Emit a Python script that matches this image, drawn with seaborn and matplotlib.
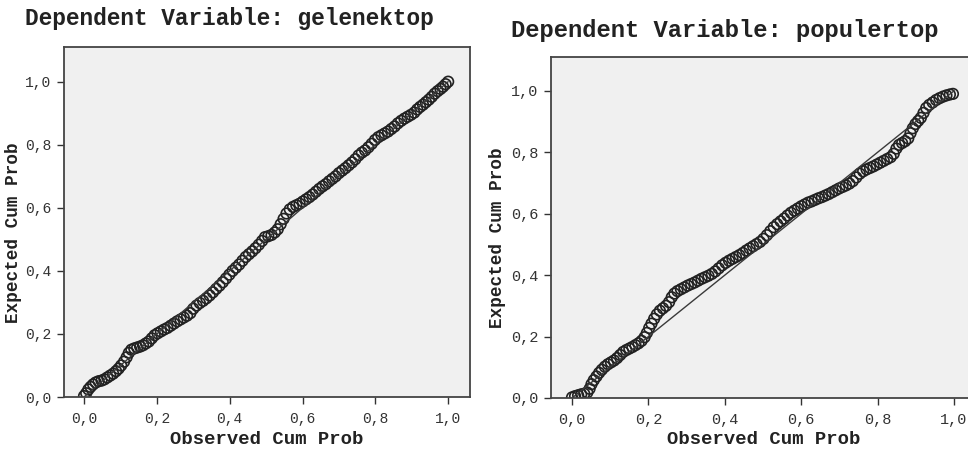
import numpy as np
import pandas as pd
import matplotlib.pyplot as plt
import seaborn as sns

# observed vs expected cumulative probabilities
gelenektop_obs = [0.000, 0.006, 0.012, 0.018, 0.025, 0.032, 0.040, 0.048, 0.056, 0.064,
                  0.072, 0.080, 0.088, 0.095, 0.102, 0.110, 0.117, 0.123, 0.130, 0.138,
                  0.146, 0.154, 0.162, 0.170, 0.178, 0.186, 0.194, 0.202, 0.211, 0.220,
                  0.229, 0.238, 0.247, 0.256, 0.265, 0.274, 0.283, 0.292, 0.300, 0.309,
                  0.318, 0.327, 0.336, 0.345, 0.354, 0.363, 0.372, 0.381, 0.390, 0.399,
                  0.408, 0.417, 0.426, 0.435, 0.444, 0.453, 0.462, 0.471, 0.480, 0.489,
                  0.497, 0.506, 0.515, 0.524, 0.532, 0.540, 0.548, 0.556, 0.565, 0.574,
                  0.583, 0.592, 0.601, 0.610, 0.619, 0.628, 0.637, 0.646, 0.655, 0.664,
                  0.673, 0.682, 0.691, 0.700, 0.709, 0.718, 0.727, 0.736, 0.745, 0.754,
                  0.763, 0.772, 0.781, 0.790, 0.799, 0.808, 0.817, 0.826, 0.835, 0.844,
                  0.853, 0.862, 0.871, 0.880, 0.889, 0.898, 0.907, 0.915, 0.923, 0.931,
                  0.939, 0.947, 0.955, 0.963, 0.971, 0.979, 0.986, 0.993, 1.000]
gelenektop_exp = [0.003, 0.012, 0.024, 0.032, 0.040, 0.046, 0.050, 0.052, 0.056, 0.062,
                  0.068, 0.074, 0.082, 0.090, 0.100, 0.112, 0.126, 0.140, 0.150, 0.154,
                  0.157, 0.160, 0.164, 0.170, 0.176, 0.186, 0.196, 0.202, 0.208, 0.214,
                  0.219, 0.226, 0.233, 0.240, 0.246, 0.252, 0.258, 0.266, 0.280, 0.290,
                  0.298, 0.305, 0.313, 0.322, 0.332, 0.343, 0.353, 0.364, 0.376, 0.388,
                  0.400, 0.410, 0.420, 0.432, 0.444, 0.453, 0.462, 0.472, 0.483, 0.495,
                  0.507, 0.510, 0.514, 0.522, 0.532, 0.548, 0.565, 0.582, 0.595, 0.603,
                  0.608, 0.613, 0.620, 0.627, 0.634, 0.642, 0.651, 0.660, 0.668, 0.675,
                  0.684, 0.692, 0.700, 0.710, 0.718, 0.726, 0.735, 0.744, 0.754, 0.766,
                  0.775, 0.782, 0.792, 0.803, 0.815, 0.824, 0.830, 0.836, 0.842, 0.850,
                  0.858, 0.868, 0.876, 0.883, 0.889, 0.895, 0.902, 0.912, 0.920, 0.927,
                  0.935, 0.943, 0.952, 0.962, 0.970, 0.977, 0.984, 0.992, 1.000]

populertop_obs = [0.000, 0.008, 0.016, 0.024, 0.032, 0.040, 0.046, 0.051, 0.057, 0.064,
                  0.071, 0.078, 0.086, 0.094, 0.102, 0.110, 0.118, 0.126, 0.134, 0.142,
                  0.150, 0.158, 0.166, 0.174, 0.182, 0.190, 0.196, 0.202, 0.208, 0.215,
                  0.222, 0.230, 0.238, 0.246, 0.254, 0.261, 0.268, 0.276, 0.285, 0.294,
                  0.303, 0.312, 0.321, 0.330, 0.339, 0.348, 0.357, 0.366, 0.375, 0.384,
                  0.393, 0.402, 0.411, 0.420, 0.429, 0.438, 0.447, 0.456, 0.465, 0.474,
                  0.483, 0.492, 0.501, 0.510, 0.519, 0.528, 0.537, 0.546, 0.555, 0.564,
                  0.573, 0.582, 0.591, 0.600, 0.609, 0.618, 0.627, 0.636, 0.645, 0.654,
                  0.663, 0.672, 0.681, 0.690, 0.699, 0.708, 0.717, 0.726, 0.735, 0.744,
                  0.753, 0.762, 0.771, 0.780, 0.789, 0.798, 0.807, 0.816, 0.825, 0.834,
                  0.842, 0.849, 0.856, 0.864, 0.872, 0.880, 0.886, 0.892, 0.899, 0.906,
                  0.913, 0.920, 0.927, 0.935, 0.944, 0.953, 0.962, 0.971, 0.980, 0.989,
                  0.997]
populertop_exp = [0.002, 0.006, 0.009, 0.012, 0.014, 0.018, 0.030, 0.045, 0.058, 0.070,
                  0.082, 0.092, 0.102, 0.110, 0.116, 0.122, 0.130, 0.140, 0.150, 0.156,
                  0.161, 0.166, 0.172, 0.178, 0.186, 0.198, 0.212, 0.228, 0.242, 0.258,
                  0.272, 0.284, 0.292, 0.300, 0.312, 0.328, 0.340, 0.348, 0.354, 0.360,
                  0.366, 0.371, 0.376, 0.382, 0.388, 0.393, 0.398, 0.404, 0.412, 0.422,
                  0.432, 0.440, 0.447, 0.453, 0.459, 0.465, 0.472, 0.480, 0.487, 0.494,
                  0.501, 0.508, 0.518, 0.530, 0.543, 0.556, 0.566, 0.575, 0.584, 0.594,
                  0.603, 0.610, 0.617, 0.624, 0.630, 0.636, 0.640, 0.645, 0.650, 0.654,
                  0.659, 0.664, 0.670, 0.676, 0.682, 0.687, 0.692, 0.698, 0.706, 0.718,
                  0.730, 0.738, 0.744, 0.749, 0.754, 0.760, 0.766, 0.772, 0.778, 0.784,
                  0.795, 0.812, 0.824, 0.830, 0.836, 0.845, 0.862, 0.878, 0.892, 0.902,
                  0.912, 0.928, 0.944, 0.954, 0.962, 0.970, 0.976, 0.981, 0.985, 0.988,
                  0.990]

ref_line = [0.0, 1.0]
tick_vals = [0.0, 0.2, 0.4, 0.6, 0.8, 1.0]
tick_labels = ["0,0", "0,2", "0,4", "0,6", "0,8", "1,0"]

sns.set_style("ticks", {"axes.facecolor": "#f0f0f0", "axes.edgecolor": "#444444"})
plt.rcParams["font.family"] = ["Liberation Mono", "DejaVu Sans Mono"]

fig = plt.figure(figsize=(9.68, 4.49), dpi=100)
fig.patch.set_facecolor("white")

panels = [
    dict(name="gelenektop", obs=gelenektop_obs, exp=gelenektop_exp,
         rect=[64 / 968, 1 - 397 / 449, 406 / 968, 350 / 449],
         title_xy=(25 / 968, 1 - 18 / 449), title_fs=16.4, tick_fs=10.5,
         xlab_y=-0.1457, ylab_x=-0.103),
    dict(name="populertop", obs=populertop_obs, exp=populertop_exp,
         rect=[551 / 968, 1 - 398 / 449, 426 / 968, 341 / 449],
         title_xy=(511 / 968, 1 - 30 / 449), title_fs=17.1, tick_fs=11,
         xlab_y=-0.1466, ylab_x=-0.106),
]

for p in panels:
    ax = fig.add_axes(p["rect"])
    df = pd.DataFrame({"observed": p["obs"], "expected": p["exp"]})
    sns.lineplot(x=ref_line, y=ref_line, ax=ax, color="#3a3a3a", linewidth=1.0)
    sns.scatterplot(data=df, x="observed", y="expected", ax=ax, s=58,
                    facecolor="none", edgecolor="#222222", linewidth=1.2)
    ax.set_xlim(-0.055, 1.06)
    ax.set_ylim(0, 1.11)
    ax.set_xticks(tick_vals)
    ax.set_xticklabels(tick_labels)
    ax.set_yticks(tick_vals)
    ax.set_yticklabels(tick_labels)
    ax.tick_params(axis="both", direction="out", length=5, width=1.0,
                   colors="#333333", labelsize=p["tick_fs"], pad=6)
    ax.tick_params(axis="y", pad=4)
    for side in ["left", "bottom", "top", "right"]:
        ax.spines[side].set_visible(True)
        ax.spines[side].set_linewidth(1.3)
        ax.spines[side].set_color("#444444")
    ax.set_xlabel("Observed Cum Prob", fontsize=13.6, fontweight="bold", color="#222222")
    ax.set_ylabel("Expected Cum Prob", fontsize=12.7, fontweight="bold", color="#222222")
    ax.xaxis.label.set_verticalalignment("bottom")
    ax.xaxis.set_label_coords(0.5, p["xlab_y"])
    ax.yaxis.set_label_coords(p["ylab_x"], 0.47)
    fig.text(p["title_xy"][0], p["title_xy"][1], "Dependent Variable: " + p["name"],
             ha="left", va="center", fontsize=p["title_fs"], fontweight="bold",
             color="#222222")

fig.savefig("out.png", dpi=100, facecolor="white")
